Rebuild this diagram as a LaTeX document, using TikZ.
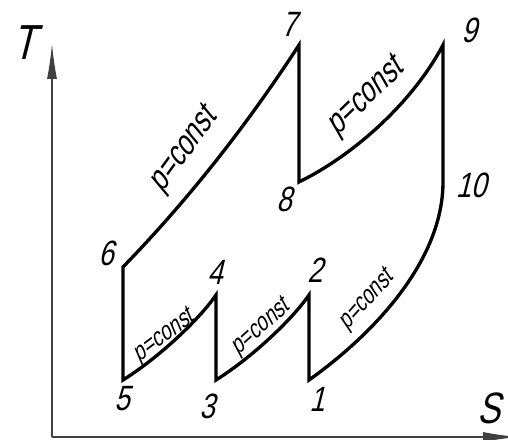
\documentclass[tikz,border=0pt]{standalone}
\usepackage{fontspec}
\setmainfont{Liberation Sans}[FakeSlant=0.25,FakeStretch=0.78]
\usetikzlibrary{arrows.meta}

\begin{document}
\begin{tikzpicture}[x=0.02cm,y=-0.02cm]
  \tikzset{
    axis/.style={line width=0.6pt, black!75, -{Latex[length=0.7cm, width=0.2cm]}},
    proc/.style={line width=1.9pt, line join=miter},
    num/.style={font=\fontsize{20}{20}\selectfont, inner sep=0pt},
    bigp/.style={font=\fontsize{19.5}{19.5}\selectfont, inner sep=0pt},
    smallp/.style={font=\fontsize{14.5}{14.5}\selectfont, inner sep=0pt}
  }
  \useasboundingbox (0,0) rectangle (508,440);
  \clip (0,0) rectangle (508,440);

  % axes
  \coordinate (o) at (52,437);
  \coordinate (ttip) at (52,44);
  \coordinate (stip) at (518,437);
  \draw[axis] (o) -- (ttip);
  \draw[axis] (o) -- (stip);
  \node[font=\fontsize{28}{28}\selectfont, inner sep=0pt] (tlab) at (24,43) {T};
  \node[font=\fontsize{25}{25}\selectfont, inner sep=0pt] (slab) at (489,408) {S};

  % state points
  \coordinate (p1) at (309,380);
  \coordinate (p2) at (309,295);
  \coordinate (p3) at (216,380);
  \coordinate (p4) at (216,295);
  \coordinate (p5) at (123,380);
  \coordinate (p6) at (123,267);
  \coordinate (p7) at (299,45);
  \coordinate (p8) at (299,182);
  \coordinate (p9) at (443,45);
  \coordinate (p10) at (443,182);

  \draw[proc] (p1) -- (p2) .. controls (291,321) and (251,358) .. (p3)
    -- (p4) .. controls (198,321) and (158,358) .. (p5)
    -- (p6) .. controls (189,199) and (247,125) .. (p7)
    -- (p8) .. controls (354,155) and (413,102) .. (p9)
    -- (p10) .. controls (443,260) and (375,333) .. cycle;

  % point numbers
  \node[num] (n1) at (317,399) {1};
  \node[num] (n2) at (315,270) {2};
  \node[num] (n3) at (207,406) {3};
  \node[num] (n4) at (215,272) {4};
  \node[num] (n5) at (122,399) {5};
  \node[num] (n6) at (106,253) {6};
  \node[num] (n7) at (289,24) {7};
  \node[num] (n8) at (284,199) {8};
  \node[num] (n9) at (469,30) {9};
  \node[num] (n10) at (471,185) {10};

  % isobars
  \node[bigp, rotate=54] (c67) at (184,151) {p=const};
  \node[bigp, rotate=44] (c89) at (366,98) {p=const};
  \node[smallp, rotate=37] (c54) at (164,337) {p=const};
  \node[smallp, rotate=42] (c32) at (261,328) {p=const};
  \node[smallp, rotate=48] (c110) at (367,301) {p=const};

\end{tikzpicture}
\end{document}
